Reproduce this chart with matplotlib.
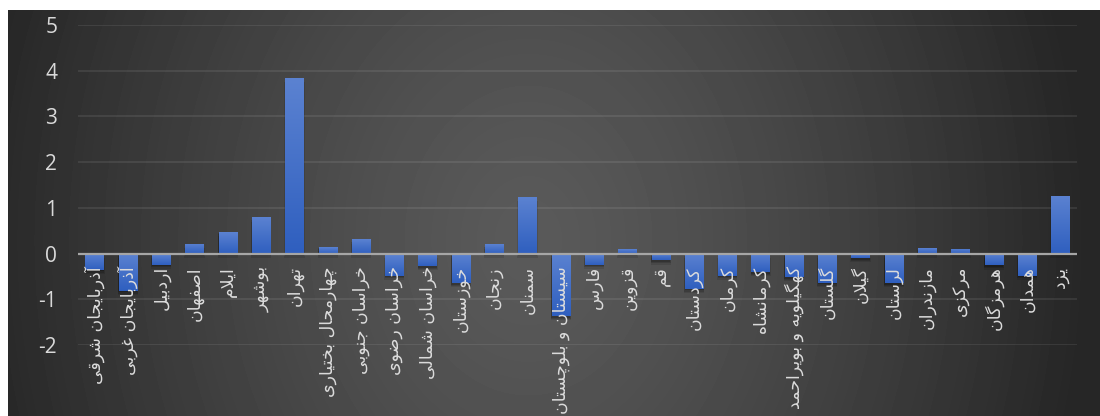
#Nachbau Balkendiagramm Provinzen Iran

import numpy as np
import matplotlib
matplotlib.use("Agg")
import matplotlib.pyplot as plt
from matplotlib.colors import LinearSegmentedColormap
from matplotlib.patches import Rectangle
from matplotlib.transforms import offset_copy

#Daten
provinces = [
    'آذربایجان شرقی', 'آذربایجان غربی', 'اردبیل', 'اصفهان', 'ایلام', 'بوشهر',
    'تهران', 'چهارمحال بختیاری', 'خراسان جنوبی', 'خراسان رضوی', 'خراسان شمالی',
    'خوزستان', 'زنجان', 'سمنان', 'سیستان و بلوچستان', 'فارس', 'قزوین', 'قم',
    'کردستان', 'کرمان', 'کرمانشاه', 'کهگیلویه و بویراحمد', 'گلستان', 'گیلان',
    'لرستان', 'مازندران', 'مرکزی', 'هرمزگان', 'همدان', 'یزد',
]
values = [
    -0.36, -0.82, -0.24, 0.22, 0.48, 0.79,
    3.84, 0.15, 0.31, -0.48, -0.28,
    -0.65, 0.20, 1.24, -1.37, -0.24, 0.10, -0.15,
    -0.77, -0.48, -0.41, -0.52, -0.64, -0.10,
    -0.65, 0.13, 0.11, -0.26, -0.48, 1.27,
]
y_ticks = [-2, -1, 0, 1, 2, 3, 4, 5]

#Persische Buchstabenformen (isoliert, final, initial, medial)
forms = {
    'آ': ('\uFE81', '\uFE82', None, None),
    'ا': ('\uFE8D', '\uFE8E', None, None),
    'ب': ('\uFE8F', '\uFE90', '\uFE91', '\uFE92'),
    'ت': ('\uFE95', '\uFE96', '\uFE97', '\uFE98'),
    'ج': ('\uFE9D', '\uFE9E', '\uFE9F', '\uFEA0'),
    'ح': ('\uFEA1', '\uFEA2', '\uFEA3', '\uFEA4'),
    'خ': ('\uFEA5', '\uFEA6', '\uFEA7', '\uFEA8'),
    'د': ('\uFEA9', '\uFEAA', None, None),
    'ذ': ('\uFEAB', '\uFEAC', None, None),
    'ر': ('\uFEAD', '\uFEAE', None, None),
    'ز': ('\uFEAF', '\uFEB0', None, None),
    'س': ('\uFEB1', '\uFEB2', '\uFEB3', '\uFEB4'),
    'ش': ('\uFEB5', '\uFEB6', '\uFEB7', '\uFEB8'),
    'ص': ('\uFEB9', '\uFEBA', '\uFEBB', '\uFEBC'),
    'ض': ('\uFEBD', '\uFEBE', '\uFEBF', '\uFEC0'),
    'غ': ('\uFECD', '\uFECE', '\uFECF', '\uFED0'),
    'ف': ('\uFED1', '\uFED2', '\uFED3', '\uFED4'),
    'ق': ('\uFED5', '\uFED6', '\uFED7', '\uFED8'),
    'ل': ('\uFEDD', '\uFEDE', '\uFEDF', '\uFEE0'),
    'م': ('\uFEE1', '\uFEE2', '\uFEE3', '\uFEE4'),
    'ن': ('\uFEE5', '\uFEE6', '\uFEE7', '\uFEE8'),
    'ه': ('\uFEE9', '\uFEEA', '\uFEEB', '\uFEEC'),
    'و': ('\uFEED', '\uFEEE', None, None),
    'چ': ('\uFB7A', '\uFB7B', '\uFB7C', '\uFB7D'),
    'ک': ('\uFB8E', '\uFB8F', '\uFB90', '\uFB91'),
    'گ': ('\uFB92', '\uFB93', '\uFB94', '\uFB95'),
    'ی': ('\uFBFC', '\uFBFD', '\uFBFE', '\uFBFF'),
}
lam_alef = {'ا': ('\uFEFB', '\uFEFC'), 'آ': ('\uFEF5', '\uFEF6')}


def dual(c): #Buchstabe verbindet nach links
    return c in forms and forms[c][2] is not None


def shape(text): #Formen wählen und für LTR-Ausgabe umdrehen
    out = []
    i = 0
    while i < len(text):
        c = text[i]
        if c not in forms:
            out.append(c)
            i += 1
            continue
        joins_prev = i > 0 and dual(text[i-1])
        if c == 'ل' and i+1 < len(text) and text[i+1] in lam_alef:
            lig = lam_alef[text[i+1]]
            out.append(lig[1] if joins_prev else lig[0])
            i += 2
            continue
        joins_next = dual(c) and i+1 < len(text) and text[i+1] in forms
        iso, fin, ini, med = forms[c]
        if joins_prev and joins_next:
            out.append(med)
        elif joins_prev:
            out.append(fin)
        elif joins_next:
            out.append(ini)
        else:
            out.append(iso)
        i += 1
    return ''.join(reversed(out))


fig = plt.figure(figsize=(11, 4.16), dpi=100, facecolor='white')

#Hintergrund mit radialem Verlauf
bg = fig.add_axes([8/1100, 0, 1092/1100, 406/416], zorder=-10)
yy, xx = np.mgrid[0:406, 0:1092]
r = np.clip(np.sqrt(((xx - 520)/560.0)**2 + ((yy - 230)/700.0)**2), 0, 1)
shade = (90 - 52*r**1.3)/255
bg.imshow(shade, cmap='gray', vmin=0, vmax=1, aspect='auto', interpolation='bilinear')
bg.axis('off')

ax = fig.add_axes([78/1100, 71/416, 999/1100, 320/416])
ax.set_facecolor('none')

x = np.arange(len(provinces))
width = 0.55

#Schatten unter den Balken
for xi, v in zip(x, values):
    for k, a in [(0.09, 0.10), (0.06, 0.14), (0.03, 0.18)]:
        ax.add_patch(Rectangle((xi - width/2 - k*0.3, min(v, 0) - k), width + k*0.6, abs(v),
                               facecolor='black', alpha=a, edgecolor='none', zorder=2))

bars = ax.bar(x, values, width=width, color='none', edgecolor='none', zorder=3)

#Farbverlauf in den Balken
cmap = LinearSegmentedColormap.from_list('blau', ['#2f5fbf', '#5b82d1'])
grad = np.linspace(1, 0, 100).reshape(-1, 1)
for b in bars:
    x0, y0 = b.get_x(), b.get_y()
    w, h = b.get_width(), b.get_height()
    im = ax.imshow(grad, cmap=cmap, aspect='auto', extent=[x0, x0 + w, min(y0, y0 + h), max(y0, y0 + h)],
                   zorder=3, interpolation='bilinear')
    im.set_clip_path(b)

ax.set_xlim(-0.5, len(provinces) - 0.5)
ax.set_ylim(-2, 5)
ax.set_yticks(y_ticks)
ax.set_yticklabels([str(t) for t in y_ticks], fontsize=15, color='#d9d9d9', family='Open Sans')
ax.tick_params(axis='y', length=0, pad=15)
ax.set_xticks([])
for s in ax.spines.values():
    s.set_visible(False)

ax.grid(axis='y', color='white', alpha=0.09, linewidth=1.3, zorder=0)
ax.axhline(0, color='#a6a6a6', linewidth=1.6, zorder=4)

#Beschriftung der Kategorien direkt unter der Nulllinie
trans = offset_copy(ax.transData, fig=fig, y=-9, units='points')
for xi, name in zip(x, provinces):
    ax.text(xi, 0, shape(name), transform=trans, rotation=90, rotation_mode='anchor',
            ha='right', va='center', fontsize=12.5, color='#dcdcdc', family='DejaVu Sans',
            zorder=5, clip_on=False)

fig.savefig('out.png', dpi=100, facecolor=fig.get_facecolor())
